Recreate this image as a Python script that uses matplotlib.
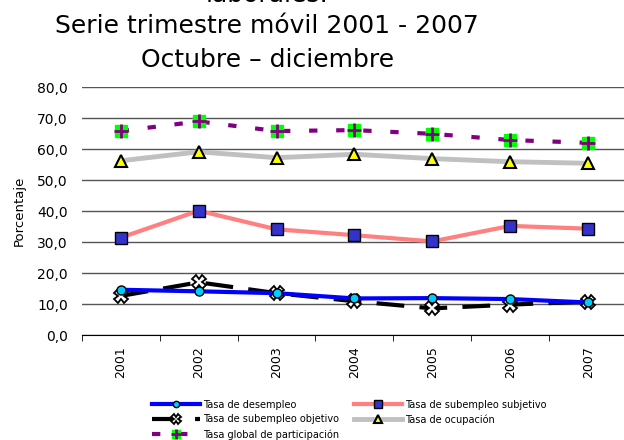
import matplotlib
matplotlib.use("Agg")
import matplotlib.pyplot as plt
from matplotlib.legend_handler import HandlerTuple

years = ["2001", "2002", "2003", "2004", "2005", "2006", "2007"]
desempleo = [14.6, 14.1, 13.5, 11.8, 11.9, 11.6, 10.5]
subempleo_objetivo = [12.6, 17.0, 13.5, 10.9, 8.6, 9.8, 10.8]
subempleo_subjetivo = [31.4, 40.1, 34.1, 32.2, 30.2, 35.2, 34.3]
ocupacion = [56.2, 59.1, 57.2, 58.3, 56.9, 55.9, 55.4]
participacion = [65.8, 68.9, 65.8, 66.1, 64.9, 62.9, 62.0]
yticks = [0, 10, 20, 30, 40, 50, 60, 70, 80]

plt.rcParams["lines.scale_dashes"] = False
plt.rcParams["font.family"] = ["DejaVu Sans"]

fig = plt.figure(figsize=(6.24, 4.40), dpi=100)
ax = fig.add_axes([0.131, 0.2386, 0.874, 0.5636])

x = list(range(len(years)))

h1, = ax.plot(x, desempleo, color="#0000FF", lw=3, marker="o", ms=6.5,
              mfc="#00CCFF", mec="black", mew=1, zorder=5)
h2, = ax.plot(x, subempleo_objetivo, color="black", lw=3, dashes=(20, 11),
              marker="X", ms=9.5, mfc="white", mec="black", mew=1.3, zorder=4)
h3, = ax.plot(x, subempleo_subjetivo, color="#FF8080", lw=3, marker="s", ms=8,
              mfc="#3333CC", mec="black", mew=1, zorder=4)
h4, = ax.plot(x, ocupacion, color="#C0C0C0", lw=3.5, marker="^", ms=9,
              mfc="#FFFF00", mec="black", mew=1.5, zorder=4)
h5, = ax.plot(x, participacion, color="#800080", lw=3, dashes=(6, 13.5),
              marker="s", ms=8.5, mfc="#00FF00", mec="#00FF00", zorder=4)
h5b, = ax.plot(x, participacion, ls="none", marker="+", ms=10,
               mec="#800080", mew=2, zorder=6)

ax.set_xlim(-0.5, len(years) - 0.5)
ax.set_ylim(0, 80)
ax.set_yticks(yticks)
ax.set_yticklabels([f"{v:.1f}".replace(".", ",") for v in yticks], fontsize=10)
ax.set_xticks(x)
ax.set_xticklabels(years, rotation=90, fontsize=9)
ax.tick_params(axis="x", which="major", length=0, pad=8)
ax.set_xticks([i - 0.5 for i in range(len(years) + 1)], minor=True)
ax.tick_params(axis="x", which="minor", length=4, direction="out", color="black")
ax.tick_params(axis="y", length=0, pad=10)
ax.grid(True, axis="y", color="#555555", lw=1)
ax.set_axisbelow(True)
for s in ["left", "right", "top"]:
    ax.spines[s].set_visible(False)
ax.spines["bottom"].set_color("black")
ax.set_ylabel("Porcentaje", fontsize=9.5, labelpad=8)

# first title line is clipped at the top edge, as in the source image
fig.text(0.428, 0.996, "laborales:", ha="center", va="baseline", fontsize=18)
fig.text(0.428, 0.925, "Serie trimestre móvil 2001 - 2007", ha="center", va="baseline", fontsize=18)
fig.text(0.428, 0.848, "Octubre – diciembre", ha="center", va="baseline", fontsize=18)

fig.legend([h1, h2, (h5, h5b), h3, h4],
           ["Tasa de desempleo", "Tasa de subempleo objetivo", "Tasa global de participación",
            "Tasa de subempleo subjetivo", "Tasa de ocupación"],
           handler_map={tuple: HandlerTuple(ndivide=1, pad=0)},
           ncol=2, loc="upper left", bbox_to_anchor=(0.236, 0.103),
           frameon=False, fontsize=7, handlelength=4.9, handletextpad=0.3,
           labelspacing=0.5, columnspacing=1.6, borderpad=0, markerscale=0.7)

fig.savefig("out.png", dpi=100)
